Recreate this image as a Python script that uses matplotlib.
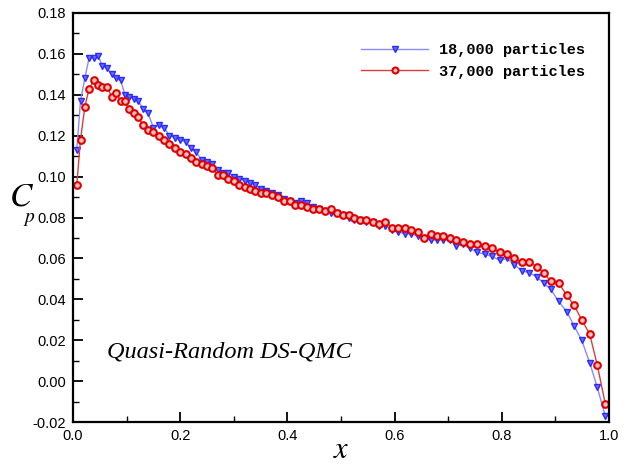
import matplotlib
matplotlib.use('Agg')
import matplotlib.pyplot as plt
from matplotlib.ticker import MultipleLocator, FormatStrFormatter

plt.rcParams.update({
    'font.family': 'Liberation Sans',
    'mathtext.fontset': 'stix',
    'xtick.direction': 'in',
    'ytick.direction': 'in',
})

# Data (shared sample positions along x)
x = [0.007, 0.014, 0.022, 0.030, 0.039, 0.047, 0.055, 0.064, 0.072, 0.080,
     0.089, 0.097, 0.105, 0.114, 0.122, 0.131, 0.140, 0.150, 0.160, 0.170,
     0.180, 0.190, 0.200, 0.210, 0.220, 0.230, 0.240, 0.250, 0.260, 0.270,
     0.280, 0.290, 0.300, 0.310, 0.320, 0.330, 0.340, 0.350, 0.360, 0.371,
     0.382, 0.393, 0.404, 0.415, 0.426, 0.437, 0.448, 0.459, 0.470, 0.481,
     0.492, 0.503, 0.514, 0.525, 0.536, 0.547, 0.559, 0.571, 0.583, 0.595,
     0.607, 0.619, 0.631, 0.643, 0.655, 0.667, 0.679, 0.691, 0.703, 0.715,
     0.727, 0.740, 0.754, 0.768, 0.782, 0.796, 0.810, 0.823, 0.837, 0.851,
     0.865, 0.878, 0.891, 0.906, 0.921, 0.935, 0.949, 0.964, 0.978, 0.993]

cp_18k = [0.113, 0.137, 0.148, 0.158, 0.158, 0.159, 0.154, 0.153, 0.150, 0.148,
          0.147, 0.140, 0.139, 0.138, 0.137, 0.133, 0.131, 0.124, 0.125, 0.124,
          0.120, 0.119, 0.118, 0.117, 0.114, 0.112, 0.108, 0.107, 0.106, 0.103,
          0.102, 0.102, 0.100, 0.099, 0.098, 0.097, 0.096, 0.094, 0.093, 0.092,
          0.091, 0.089, 0.088, 0.087, 0.088, 0.087, 0.085, 0.084, 0.083, 0.082,
          0.082, 0.081, 0.080, 0.079, 0.079, 0.078, 0.078, 0.076, 0.076, 0.074,
          0.073, 0.072, 0.072, 0.071, 0.070, 0.069, 0.069, 0.069, 0.069, 0.066,
          0.067, 0.065, 0.063, 0.062, 0.061, 0.059, 0.060, 0.057, 0.054, 0.053,
          0.051, 0.048, 0.045, 0.039, 0.034, 0.027, 0.020, 0.009, -0.003, -0.017]

cp_37k = [0.096, 0.118, 0.134, 0.143, 0.147, 0.145, 0.144, 0.144, 0.139, 0.141,
          0.137, 0.137, 0.133, 0.131, 0.129, 0.125, 0.123, 0.122, 0.120, 0.118,
          0.116, 0.114, 0.112, 0.111, 0.109, 0.107, 0.106, 0.105, 0.104, 0.101,
          0.101, 0.099, 0.098, 0.096, 0.095, 0.094, 0.093, 0.092, 0.092, 0.091,
          0.090, 0.088, 0.088, 0.086, 0.086, 0.085, 0.084, 0.084, 0.083, 0.084,
          0.082, 0.081, 0.081, 0.080, 0.079, 0.079, 0.078, 0.077, 0.078, 0.075,
          0.075, 0.075, 0.074, 0.073, 0.070, 0.072, 0.071, 0.071, 0.070, 0.069,
          0.068, 0.067, 0.067, 0.066, 0.065, 0.063, 0.062, 0.060, 0.058, 0.058,
          0.056, 0.053, 0.049, 0.048, 0.042, 0.037, 0.030, 0.023, 0.008, -0.011]

labels = ['18,000 particles', '37,000 particles']

fig = plt.figure(figsize=(6.29, 4.68), dpi=100)
ax = fig.add_axes([73/629, 1 - 422/468, 536/629, 409/468])

ax.plot(x, cp_18k, color='#8a8aff', linewidth=1.0, marker='v', markersize=4.8,
        markerfacecolor='#6a6aff', markeredgecolor='#2a2aff', markeredgewidth=1.0,
        label=labels[0])
ax.plot(x, cp_37k, color='#e23a3a', linewidth=1.0, marker='o', markersize=4.8,
        markerfacecolor='#f4c0c0', markeredgecolor='#e00000', markeredgewidth=1.5,
        label=labels[1])

ax.set_xlim(0, 1)
ax.set_ylim(-0.02, 0.18)
ax.xaxis.set_major_locator(MultipleLocator(0.2))
ax.xaxis.set_minor_locator(MultipleLocator(0.1))
ax.yaxis.set_major_locator(MultipleLocator(0.02))
ax.yaxis.set_minor_locator(MultipleLocator(0.01))
ax.xaxis.set_major_formatter(FormatStrFormatter('%.1f'))
ax.yaxis.set_major_formatter(FormatStrFormatter('%.2f'))
ax.tick_params(which='major', length=7, width=1.3, labelsize=10.5, pad=5)
ax.tick_params(which='minor', length=4, width=1.0)
for s in ax.spines.values():
    s.set_linewidth(1.6)

# y label: big italic C with a low subscript p, as in the reference
fig.text(9/629, 1 - 205/468, r'$C$', fontsize=24, ha='left', va='baseline')
fig.text(23/629, 1 - 222/468, r'$p$', fontsize=14, ha='left', va='baseline')
fig.text(341/629, 1 - 450/468, r'$x$', fontsize=22, ha='center', va='center')

ax.text((107 - 73)/536, (422 - 352)/409, 'Quasi-Random DS-QMC',
        family='Liberation Serif', style='italic', fontsize=17.5,
        transform=ax.transAxes, ha='left', va='center')

ax.legend(loc='upper right', bbox_to_anchor=((585 - 73)/536, (422 - 43)/409),
          frameon=False, borderpad=0, borderaxespad=0, handlelength=4.4,
          handletextpad=0.7, labelspacing=0.5, markerscale=0.9,
          prop={'family': 'Liberation Mono', 'weight': 'bold', 'size': 11})

fig.savefig('out.png', dpi=100)
